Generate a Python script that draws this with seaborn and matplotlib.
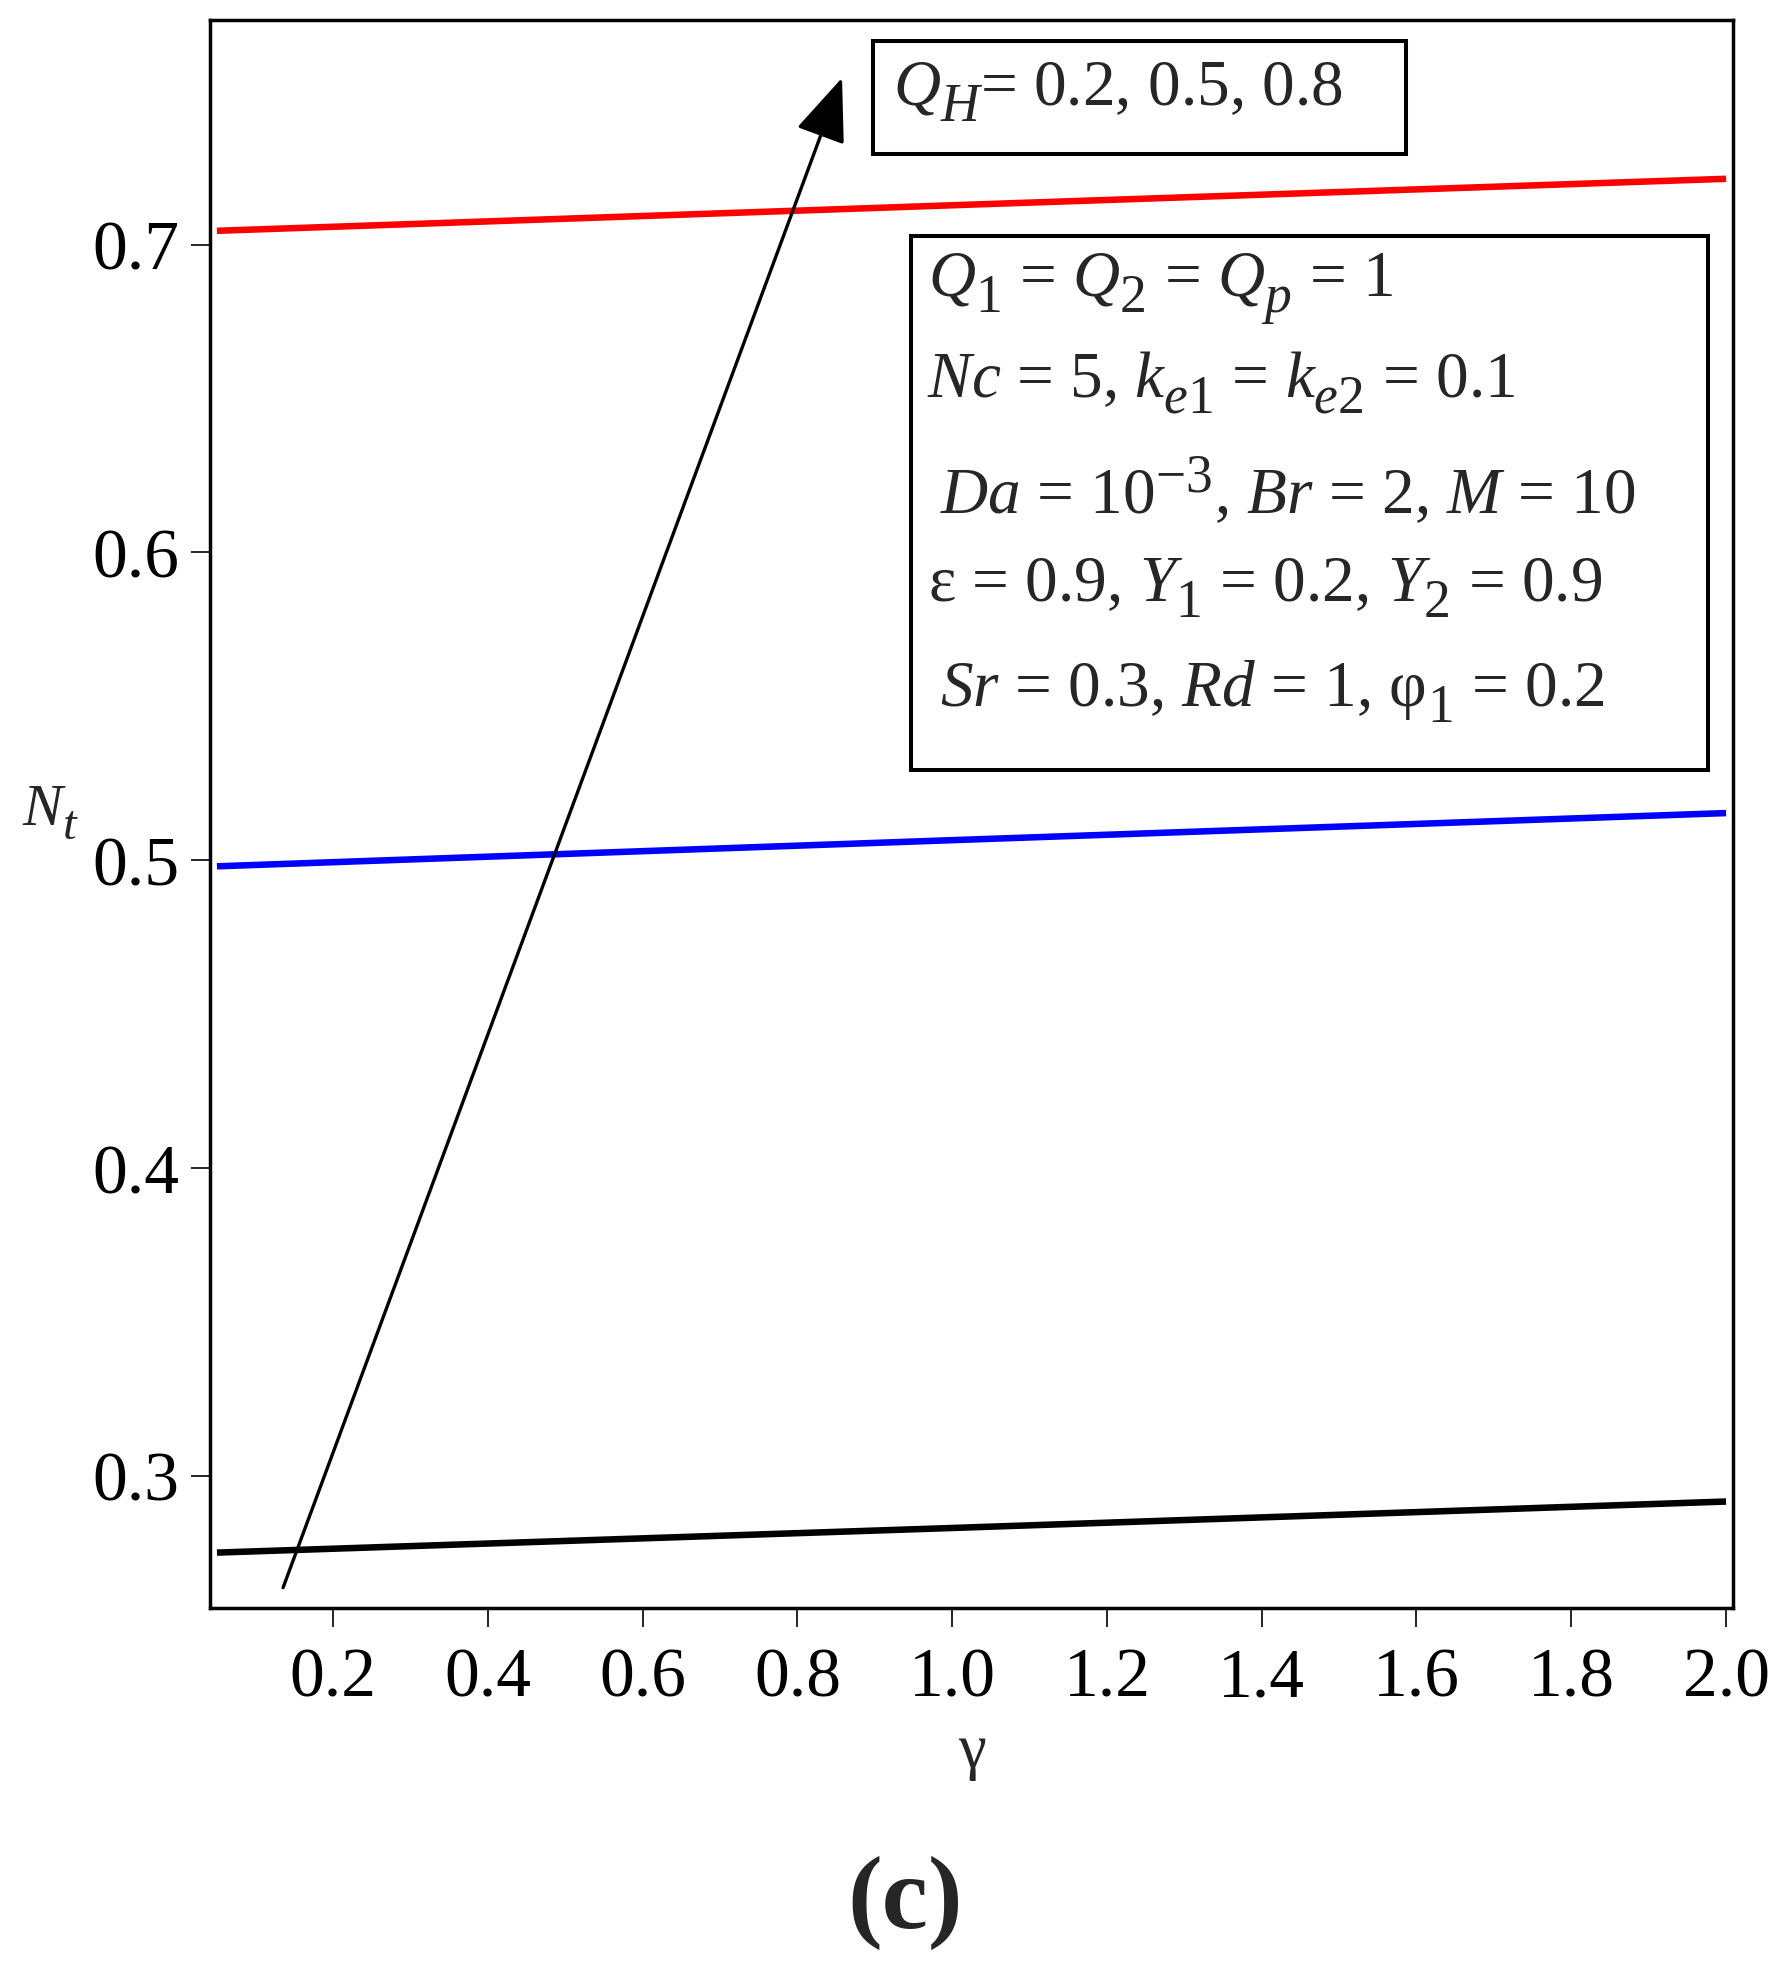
import numpy as np
import pandas as pd
import matplotlib
matplotlib.use("Agg")
import matplotlib.pyplot as plt
import seaborn as sns
from matplotlib.patches import Rectangle

# larger, lower subscripts (closer to the reference's typesetting)
try:
    import matplotlib._mathtext as _mt
    _mt.SHRINK_FACTOR = 0.82
    _mt.FontConstantsBase.sub1 = 0.55
    _mt.FontConstantsBase.sub2 = 0.7
except Exception:
    pass

# ---------------- data ----------------
gamma = [0.05, 1.0, 2.0]
nt_qh02 = [0.2750, 0.2830, 0.2916]
nt_qh05 = [0.4980, 0.5065, 0.5153]
nt_qh08 = [0.7045, 0.7128, 0.7214]
qh_values = ["0.2", "0.5", "0.8"]
line_colors = ["#000000", "#0000ff", "#ff0000"]

x_ticks = [0.2, 0.4, 0.6, 0.8, 1.0, 1.2, 1.4, 1.6, 1.8, 2.0]
x_tick_labels = ["0.2", "0.4", "0.6", "0.8", "1.0", "1.2", "1.4", "1.6", "1.8", "2.0"]
y_ticks = [0.3, 0.4, 0.5, 0.6, 0.7]
y_tick_labels = ["0.3", "0.4", "0.5", "0.6", "0.7"]
x_limits = (0.041, 2.009)
y_limits = (0.257, 0.773)

arrow_start = (0.1354, 0.2636)
arrow_end = (0.8577, 0.7542)

qh_label = r"$Q_H$= 0.2, 0.5, 0.8"
param_lines = [
    r"$Q_1$ = $Q_2$ = $Q_p$ = 1",
    r"$Nc$ = 5, $k_{e1}$ = $k_{e2}$ = 0.1",
    r"$Da$ = 10$^{-3}$, $Br$ = 2, $M$ = 10",
    r"ε = 0.9, $Y_1$ = 0.2, $Y_2$ = 0.9",
    r"$Sr$ = 0.3, $Rd$ = 1, φ$_1$ = 0.2",
]
x_label = "γ"
y_label = r"$N_t$"
panel_label = "(c)"

# ---------------- style ----------------
sns.set_style("ticks")
SERIF = ["Liberation Serif", "DejaVu Serif"]
plt.rcParams["font.family"] = SERIF
plt.rcParams["mathtext.fontset"] = "custom"
plt.rcParams["mathtext.rm"] = "Liberation Serif"
plt.rcParams["mathtext.it"] = "Liberation Serif:italic"
plt.rcParams["mathtext.bf"] = "Liberation Serif:bold"
plt.rcParams["mathtext.sf"] = "Liberation Serif"

W, H = 1779, 1965
fig = plt.figure(figsize=(W / 100, H / 100), dpi=100)
fig.patch.set_facecolor("white")


def fx(x):
    return x / W


def fy(y):
    return 1 - y / H


ax = fig.add_axes([fx(210), fy(1609), (1733 - 210) / W, (1609 - 21) / H])

rows = []
for q, vals in zip(qh_values, [nt_qh02, nt_qh05, nt_qh08]):
    for g, v in zip(gamma, vals):
        rows.append({"gamma": g, "Nt": v, "QH": q})
df = pd.DataFrame(rows)

sns.lineplot(data=df, x="gamma", y="Nt", hue="QH", hue_order=qh_values,
             palette=line_colors, linewidth=4.7, legend=False, ax=ax,
             estimator=None, sort=True, solid_capstyle="butt")

ax.set_xlim(*x_limits)
ax.set_ylim(*y_limits)
ax.set_xticks(x_ticks)
ax.set_xticklabels(x_tick_labels, family=SERIF, fontsize=50)
ax.set_yticks(y_ticks)
ax.set_yticklabels(y_tick_labels, family=SERIF, fontsize=50)
ax.tick_params(axis="both", direction="out", length=14, width=1.2,
               color="black", labelcolor="black")
ax.tick_params(axis="x", pad=14)
ax.tick_params(axis="y", pad=8)
for s in ax.spines.values():
    s.set_visible(True)
    s.set_linewidth(2.5)
    s.set_color("black")

ax.set_xlabel(x_label, fontsize=45, va="baseline", family=SERIF)
ax.xaxis.set_label_coords(0.5, (1609 - 1767) / 1588)
ax.set_ylabel(y_label, fontsize=43, rotation=0, ha="left", va="baseline",
              family=SERIF)
ax.yaxis.set_label_coords((22 - 210) / 1523, (1609 - 825) / 1588)

# arrow
ax.annotate("", xy=arrow_end, xytext=arrow_start, xycoords="data",
            arrowprops=dict(arrowstyle="-|>,head_length=0.40,head_width=0.16",
                            mutation_scale=100, lw=2.4, color="black",
                            shrinkA=0, shrinkB=0))

# boxes
fig.add_artist(Rectangle((fx(873), fy(155)), (1406 - 873) / W, (155 - 42) / H,
                         transform=fig.transFigure, fill=False, lw=2.9,
                         ec="black"))
fig.add_artist(Rectangle((fx(911), fy(771)), (1708 - 911) / W, (771 - 237) / H,
                         transform=fig.transFigure, fill=False, lw=2.9,
                         ec="black"))

fig.text(fx(893), fy(105), qh_label, fontsize=47, ha="left", va="baseline",
         family=SERIF)

line_x = [928, 927, 940, 928, 940]
line_y = [298, 397, 513, 602, 707]
for t, xx, yy in zip(param_lines, line_x, line_y):
    fig.text(fx(xx), fy(yy), t, fontsize=47, ha="left", va="baseline",
             family=SERIF)

fig.text(fx(905), fy(1928), panel_label, fontsize=75, fontweight="bold",
         ha="center", va="baseline", family=SERIF)

fig.savefig("out.png", dpi=100, facecolor="white")
